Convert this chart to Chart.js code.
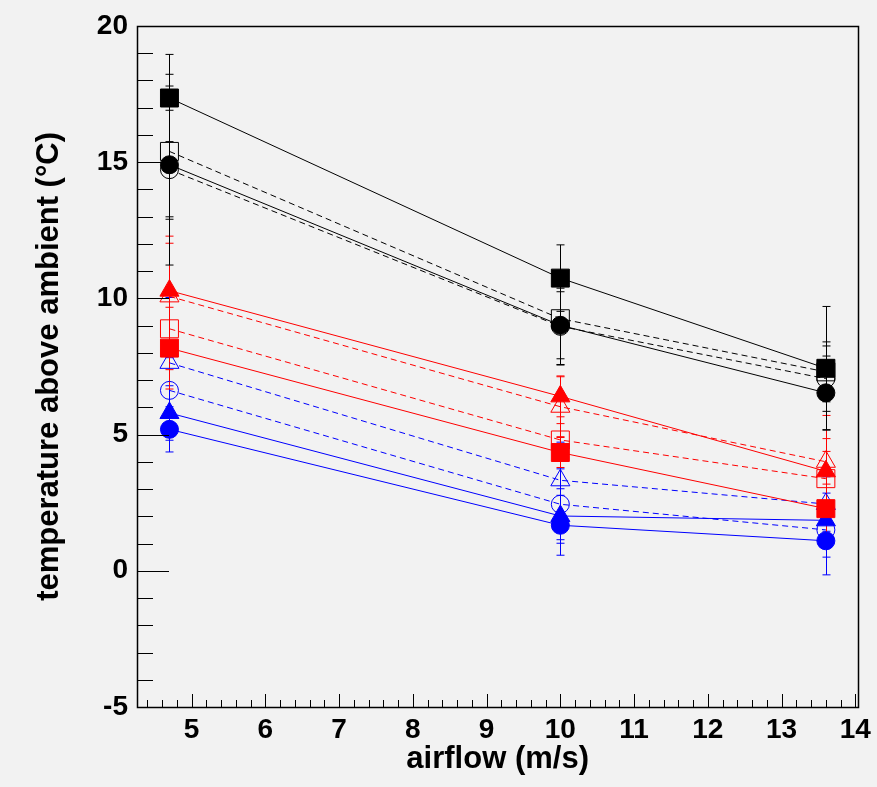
<!DOCTYPE html>
<html>
<head>
<meta charset="utf-8">
<script src="https://cdn.jsdelivr.net/npm/chart.js@4.4.0/dist/chart.umd.min.js"></script>
<style>
  html, body { margin: 0; padding: 0; background: #f2f2f2; }
  canvas { display: block; }
</style>
</head>
<body>
<canvas id="chart" width="877" height="787"></canvas>
<script>
// airflow points (m/s)
const airflow = [4.7, 10, 13.6];

// black
const blackSquareFull = [17.35, 10.74, 7.43];
const blackSquareFullErr = [1.6, 1.22, 2.27];
const blackSquareOpen = [15.39, 9.25, 7.3];
const blackSquareOpenErr = [2.4, 1.7, 1.1];
const blackCircleFull = [14.9, 9.01, 6.53];
const blackCircleFullErr = [2.0, 1.23, 1.35];
const blackCircleOpen = [14.72, 8.97, 7.05];
const blackCircleOpenErr = [3.5, 1.4, 1.2];

// red
const redTriangleFull = [10.28, 6.4, 3.65];
const redTriangleFullErr = [2.0, 0.75, 1.2];
const redTriangleOpen = [10.07, 6.02, 4.0];
const redTriangleOpenErr = [1.95, 1.1, 1.7];
const redSquareOpen = [8.88, 4.8, 3.38];
const redSquareOpenErr = [1.5, 0.6, 1.0];
const redSquareFull = [8.17, 4.34, 2.28];
const redSquareFullErr = [1.5, 0.55, 0.9];

// blue
const blueTriangleOpen = [7.63, 3.32, 2.45];
const blueTriangleOpenErr = [2.4, 1.4, 1.0];
const blueCircleOpen = [6.62, 2.44, 1.5];
const blueCircleOpenErr = [1.2, 1.3, 1.0];
const blueTriangleFull = [5.79, 2.01, 1.85];
const blueTriangleFullErr = [1.0, 1.0, 1.0];
const blueCircleFull = [5.19, 1.67, 1.1];
const blueCircleFullErr = [0.83, 1.1, 1.25];

const BLACK = '#000000', RED = '#ff0000', BLUE = '#0000ff';
const FONT = "'Liberation Sans', Arial, Helvetica, sans-serif";

function series(values, errors, color, style, filled) {
  const radius = style === 'rect' ? 12.7 : (style === 'triangle' ? 11 : 9);
  return {
    data: airflow.map((x, i) => ({ x: x, y: values[i] })),
    errors: errors,
    borderColor: color,
    backgroundColor: color,
    pointBackgroundColor: filled ? color : 'rgba(0,0,0,0)',
    pointBorderColor: color,
    pointBorderWidth: 1,
    pointStyle: style,
    pointRadius: radius,
    pointHoverRadius: radius,
    borderWidth: 1,
    borderDash: filled ? [] : [6, 4],
    showLine: true,
    fill: false,
    tension: 0
  };
}

// first dataset is painted last (on top)
const datasets = [
  series(blackSquareFull, blackSquareFullErr, BLACK, 'rect', true),
  series(blackCircleFull, blackCircleFullErr, BLACK, 'circle', true),
  series(blackSquareOpen, blackSquareOpenErr, BLACK, 'rect', false),
  series(blackCircleOpen, blackCircleOpenErr, BLACK, 'circle', false),
  series(redTriangleFull, redTriangleFullErr, RED, 'triangle', true),
  series(redSquareFull, redSquareFullErr, RED, 'rect', true),
  series(redTriangleOpen, redTriangleOpenErr, RED, 'triangle', false),
  series(redSquareOpen, redSquareOpenErr, RED, 'rect', false),
  series(blueCircleFull, blueCircleFullErr, BLUE, 'circle', true),
  series(blueTriangleFull, blueTriangleFullErr, BLUE, 'triangle', true),
  series(blueCircleOpen, blueCircleOpenErr, BLUE, 'circle', false),
  series(blueTriangleOpen, blueTriangleOpenErr, BLUE, 'triangle', false)
];

const background = {
  id: 'background',
  beforeDraw(chart) {
    const ctx = chart.ctx;
    ctx.save();
    ctx.fillStyle = '#f2f2f2';
    ctx.fillRect(0, 0, chart.width, chart.height);
    ctx.restore();
  }
};

const errorBars = {
  id: 'errorBars',
  beforeDatasetsDraw(chart) {
    const ctx = chart.ctx;
    const xs = chart.scales.x, ys = chart.scales.y;
    ctx.save();
    ctx.lineWidth = 1;
    for (let d = chart.data.datasets.length - 1; d >= 0; d--) {
      const ds = chart.data.datasets[d];
      ctx.strokeStyle = ds.borderColor;
      ds.data.forEach((p, i) => {
        const px = Math.round(xs.getPixelForValue(p.x)) + 0.5;
        const top = ys.getPixelForValue(p.y + ds.errors[i]);
        const bot = ys.getPixelForValue(p.y - ds.errors[i]);
        ctx.beginPath();
        ctx.moveTo(px, top);
        ctx.lineTo(px, bot);
        ctx.moveTo(px - 4, top);
        ctx.lineTo(px + 4, top);
        ctx.moveTo(px - 4, bot);
        ctx.lineTo(px + 4, bot);
        ctx.stroke();
      });
    }
    ctx.restore();
  }
};

const frame = {
  id: 'frame',
  afterDraw(chart) {
    const ctx = chart.ctx;
    const a = chart.chartArea;
    const xs = chart.scales.x, ys = chart.scales.y;
    ctx.save();
    ctx.strokeStyle = '#000';
    ctx.lineWidth = 1;
    ctx.beginPath();
    // x ticks (inside, from bottom)
    for (let k = 22; k <= 70; k++) {
      const v = k / 5;
      if (v < xs.min || v > xs.max) continue;
      const px = Math.round(xs.getPixelForValue(v)) + 0.5;
      const len = (k % 5 === 0) ? 13 : 7;
      ctx.moveTo(px, a.bottom);
      ctx.lineTo(px, a.bottom - len);
    }
    // y ticks (inside, from left)
    for (let v = -5; v <= 20; v++) {
      const py = Math.round(ys.getPixelForValue(v)) + 0.5;
      const len = (v % 5 === 0) ? 32 : 16;
      ctx.moveTo(a.left, py);
      ctx.lineTo(a.left + len, py);
    }
    ctx.stroke();
    ctx.lineWidth = 1.5;
    ctx.strokeRect(Math.round(a.left) + 0.5, Math.round(a.top) + 0.5,
      Math.round(a.right - a.left), Math.round(a.bottom - a.top));
    ctx.restore();
  }
};

new Chart(document.getElementById('chart'), {
  type: 'scatter',
  data: { datasets: datasets },
  options: {
    responsive: false,
    devicePixelRatio: 1,
    animation: false,
    layout: { padding: { top: 25, right: 13, left: 0, bottom: 0 } },
    plugins: {
      legend: { display: false },
      tooltip: { enabled: false }
    },
    scales: {
      x: {
        type: 'linear',
        min: 4.26,
        max: 14.04,
        afterFit(s) { s.height = 80; },
        grid: { display: false, drawTicks: false },
        border: { display: false },
        ticks: {
          stepSize: 1,
          includeBounds: false,
          color: '#000',
          padding: 6,
          font: { family: FONT, size: 28, weight: 'bold' }
        },
        title: {
          display: true,
          text: 'airflow (m/s)',
          color: '#000',
          padding: { top: 0, bottom: 9 },
          font: { family: FONT, size: 31, weight: 'bold' }
        }
      },
      y: {
        type: 'linear',
        min: -5,
        max: 20,
        afterFit(s) { s.width = 137; },
        grid: { display: false, drawTicks: false },
        border: { display: false },
        ticks: {
          stepSize: 5,
          color: '#000',
          padding: 9,
          font: { family: FONT, size: 28, weight: 'bold' }
        },
        title: {
          display: true,
          text: 'temperature above ambient (°C)',
          color: '#000',
          padding: { top: 31, bottom: 0 },
          font: { family: FONT, size: 31, weight: 'bold' }
        }
      }
    }
  },
  plugins: [background, errorBars, frame]
});
</script>
</body>
</html>
